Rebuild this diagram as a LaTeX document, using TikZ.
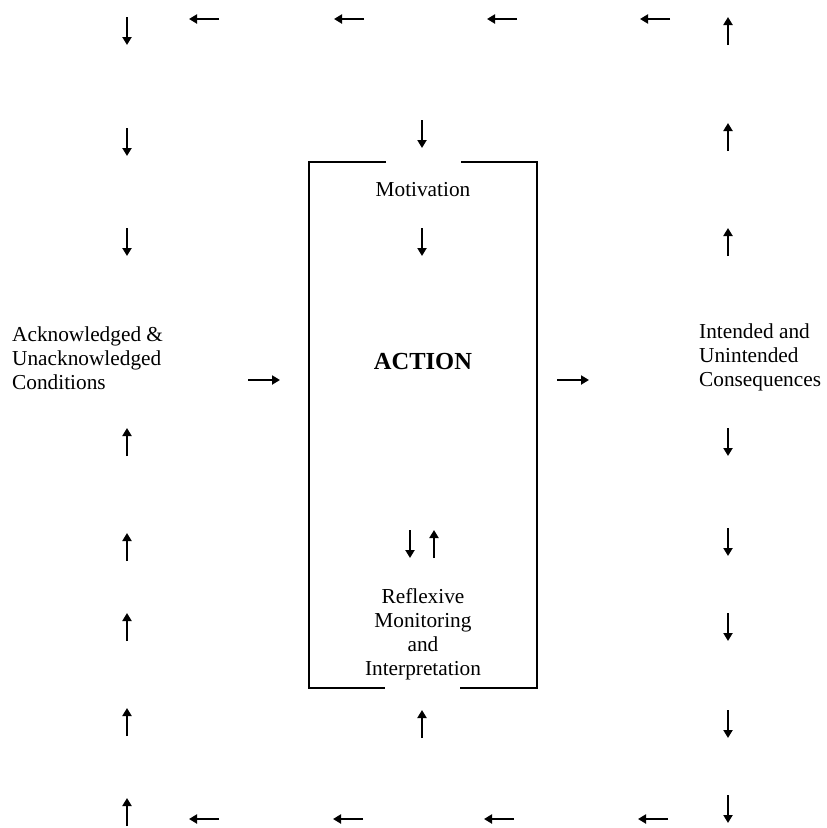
\documentclass[tikz,border=0pt]{standalone}
\usepackage{fontspec}
\setmainfont{Liberation Serif}
\usetikzlibrary{arrows.meta}
\begin{document}
\begin{tikzpicture}[x=1pt,y=-1pt,
  flow/.style={line width=2.4pt,-{Triangle[length=8pt,width=9pt]}},
  frame/.style={line width=1.9pt},
  lbl/.style={font=\fontsize{21.3}{24}\selectfont, align=center, inner sep=0pt},
  sidelbl/.style={font=\fontsize{21.3}{24}\selectfont, align=left, inner sep=0pt, anchor=west},
  headlbl/.style={font=\fontsize{24.5}{28}\selectfont\bfseries, inner sep=0pt}]
\useasboundingbox (0,0) rectangle (827,828);

% text blocks
\node[sidelbl] (cond) at (12,358) {Acknowledged \&\\Unacknowledged\\Conditions};
\node[sidelbl] (cons) at (699,357) {Intended and\\Unintended\\Consequences};
\node[lbl] (motiv) at (423,190) {Motivation};
\node[headlbl] (action) at (423,362) {ACTION};
\node[lbl] (refl) at (423,634) {Reflexive\\Monitoring\\and\\Interpretation};

% the action frame, open at top and bottom
\draw[frame] (386,162) -- (309,162) -- (309,688) -- (385,688);
\draw[frame] (461,162) -- (537,162) -- (537,688) -- (460,688);

% left column: down above, up below
\foreach \y in {31,142,242}
  \draw[flow] (127,\y-14) -- (127,\y+14);
\foreach \y in {442,547,627,722,812}
  \draw[flow] (127,\y+14) -- (127,\y-14);

% right column: up above, down below
\foreach \y in {31,137,242}
  \draw[flow] (728,\y+14) -- (728,\y-14);
\foreach \y in {442,542,627,724,809}
  \draw[flow] (728,\y-14) -- (728,\y+14);

% top and bottom rows, pointing left
\foreach \x in {204,349,502,655}
  \draw[flow] (\x+15,19) -- (\x-15,19);
\foreach \x in {204,348,499,653}
  \draw[flow] (\x+15,819) -- (\x-15,819);

% central arrows
\coordinate (inA) at (248,380);
\coordinate (inB) at (280,380);
\coordinate (outA) at (557,380);
\coordinate (outB) at (589,380);
\draw[flow] (inA) -- (inB);
\draw[flow] (outA) -- (outB);
\draw[flow] (422,120) -- (422,148);
\draw[flow] (422,228) -- (422,256);
\draw[flow] (410,530) -- (410,558);
\draw[flow] (434,558) -- (434,530);
\draw[flow] (422,738) -- (422,710);
\end{tikzpicture}
\end{document}
